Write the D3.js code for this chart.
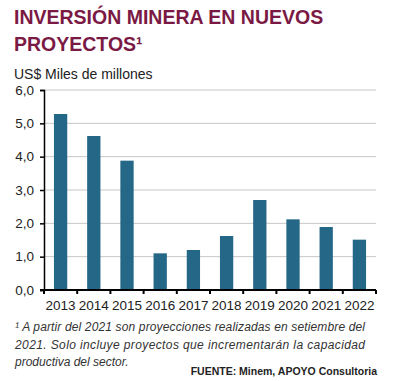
<!DOCTYPE html>
<html>
<head>
<meta charset="utf-8">
<script src="https://cdn.jsdelivr.net/npm/d3@7"></script>
<style>
  body { margin: 0; background: #fff; }
  text { font-family: "Liberation Sans", Arial, sans-serif; }
</style>
</head>
<body>
<div id="chart"></div>
<script>
const years = ['2013', '2014', '2015', '2016', '2017', '2018', '2019', '2020', '2021', '2022'];
const investment = [5.28, 4.62, 3.88, 1.1, 1.2, 1.62, 2.7, 2.12, 1.89, 1.51];
const yTicks = [0, 1, 2, 3, 4, 5, 6];
const titleLines = ['INVERSIÓN MINERA EN NUEVOS', 'PROYECTOS¹'];
const subtitle = 'US$ Miles de millones';
const footnoteLines = [
  '¹ A partir del 2021 son proyecciones realizadas en setiembre del',
  '2021. Solo incluye proyectos que incrementarán la capacidad',
  'productiva del sector.'
];
const source = 'FUENTE: Minem, APOYO Consultoria';

const width = 394, height = 381;
const margin = { top: 90, right: 18, bottom: 91, left: 44 };

const svg = d3.select('#chart')
  .append('svg')
  .attr('width', width)
  .attr('height', height);

svg.append('g')
  .selectAll('text')
  .data(titleLines)
  .enter()
  .append('text')
    .attr('x', 14)
    .attr('y', (d, i) => 23.5 + i * 27)
    .attr('fill', '#7a1a44')
    .style('font-size', '19.5px')
    .style('font-weight', 'bold')
    .text((d) => d);

svg.append('text')
  .attr('x', 14)
  .attr('y', 78.5)
  .attr('fill', '#222')
  .style('font-size', '14px')
  .text(subtitle);

const x = d3.scaleBand()
  .domain(years)
  .range([margin.left, width - margin.right])
  .paddingInner(0.6)
  .paddingOuter(0.3);

const y = d3.scaleLinear()
  .domain([0, 6])
  .range([height - margin.bottom, margin.top]);

// gridlines
svg.append('g')
  .selectAll('line')
  .data(yTicks.slice(1))
  .enter()
  .append('line')
    .attr('x1', margin.left)
    .attr('x2', width - margin.right)
    .attr('y1', (d) => y(d))
    .attr('y2', (d) => y(d))
    .attr('stroke', '#c6c6c6')
    .attr('stroke-width', 1);

svg.append('g')
  .selectAll('rect')
  .data(years)
  .enter()
  .append('rect')
    .attr('x', (d) => x(d))
    .attr('width', x.bandwidth())
    .attr('y', (d, i) => y(investment[i]))
    .attr('height', (d, i) => y(0) - y(investment[i]))
    .attr('fill', '#246786');

// y axis
const yAxis = svg.append('g')
  .attr('transform', `translate(${margin.left},0)`)
  .call(d3.axisLeft(y)
    .tickValues(yTicks)
    .tickSize(4)
    .tickPadding(6)
    .tickFormat((d) => d3.format('.1f')(d).replace('.', ',')));
yAxis.select('.domain').attr('stroke', '#000').attr('stroke-width', 1.5);
yAxis.selectAll('.tick line').attr('stroke', '#000').attr('stroke-width', 1.5);
yAxis.selectAll('.tick text')
  .attr('fill', '#222')
  .style('font-family', '"Liberation Sans", Arial, sans-serif')
  .style('font-size', '13.5px');

// x axis
const boundaries = d3.range(years.length + 1).map((i) => margin.left + i * (width - margin.right - margin.left) / years.length);
const xAxis = svg.append('g')
  .attr('transform', `translate(0,${y(0)})`);
xAxis.append('line')
  .attr('x1', margin.left - 4)
  .attr('x2', width - margin.right)
  .attr('stroke', '#000')
  .attr('stroke-width', 2);
xAxis.selectAll('.bt')
  .data(boundaries)
  .enter()
  .append('line')
    .attr('x1', (d) => d)
    .attr('x2', (d) => d)
    .attr('y1', 0)
    .attr('y2', 4)
    .attr('stroke', '#000')
    .attr('stroke-width', 2);
xAxis.selectAll('.yl')
  .data(years)
  .enter()
  .append('text')
    .attr('x', (d) => x(d) + x.bandwidth() / 2)
    .attr('y', 19.5)
    .attr('text-anchor', 'middle')
    .attr('fill', '#222')
    .style('font-size', '13.5px')
    .text((d) => d);

// footnote, first two lines justified
svg.append('g')
  .selectAll('text')
  .data(footnoteLines)
  .enter()
  .append('text')
    .attr('x', 15)
    .attr('y', (d, i) => 331 + i * 17.5)
    .attr('fill', '#333')
    .attr('textLength', (d, i) => i < 2 ? 350 : null)
    .attr('lengthAdjust', 'spacing')
    .style('font-size', '12px')
    .style('font-style', 'italic')
    .text((d) => d);

svg.append('text')
  .attr('x', width - margin.right + 1)
  .attr('y', 375)
  .attr('text-anchor', 'end')
  .attr('fill', '#222')
  .style('font-size', '10.5px')
  .style('font-weight', 'bold')
  .text(source);
</script>
</body>
</html>
